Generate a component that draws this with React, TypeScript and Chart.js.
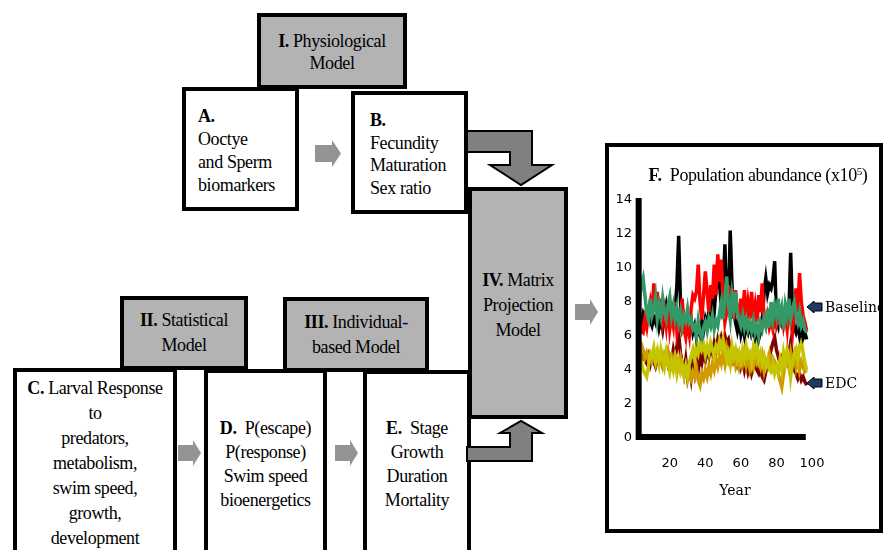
import React, { useEffect, useRef } from "react";
import { Chart, registerables } from "chart.js";

Chart.register(...registerables);

// ---- Chart data (population abundance x10^5, years 1..97) ----
const FIRST_YEAR = 1;
const X_TICKS = [20, 40, 60, 80, 100];
const Y_TICKS = [0, 2, 4, 6, 8, 10, 12, 14];

const baselineBlack = [
  8.4, 8.0, 7.2, 6.8, 7.3, 7.0, 6.7, 7.4, 6.9, 6.6,
  7.1, 6.8, 7.3, 6.5, 7.0, 6.4, 7.2, 7.8, 7.1, 7.9,
  7.3, 6.8, 7.5, 9.0, 11.9, 8.0, 6.6, 7.1, 6.5, 6.9,
  6.3, 7.0, 6.2, 6.6, 5.9, 6.4, 6.1, 6.8, 6.3, 7.0,
  6.6, 7.5, 7.0, 8.2, 7.4, 8.8, 10.4, 9.0, 7.8, 8.6,
  11.4, 8.2, 7.6, 12.2, 9.0, 7.4, 6.8, 6.3, 6.9, 6.1,
  6.6, 6.0, 6.5, 6.2, 6.7, 6.1, 6.4, 5.9, 6.3, 5.8,
  6.2, 6.6, 8.6, 9.4, 8.5, 9.0, 8.8, 9.3, 10.4, 7.0,
  6.6, 7.3, 6.8, 7.2, 7.6, 7.0, 7.4, 10.9, 7.6, 6.5,
  6.2, 6.6, 6.0, 6.4, 5.9, 6.2, 5.8,
];
const baselineRed = [
  7.6, 8.8, 7.0, 6.3, 6.2, 7.0, 6.5, 7.4, 8.0, 7.2,
  9.1, 7.6, 8.6, 7.0, 8.2, 6.8, 7.5, 6.6, 7.8, 6.4,
  7.2, 6.6, 8.0, 6.3, 7.0, 6.2, 8.2, 6.4, 5.9, 6.8,
  6.1, 7.6, 8.4, 8.2, 8.6, 10.2, 8.0, 7.0, 8.4, 9.8,
  8.6, 7.4, 9.0, 8.2, 10.2, 8.4, 10.8, 9.2, 10.5, 8.0,
  6.8, 7.4, 9.0, 7.2, 8.8, 7.0, 8.7, 7.4, 7.0, 8.2,
  7.2, 8.7, 6.9, 8.0, 7.2, 8.6, 7.0, 7.8, 6.8, 8.4,
  7.4, 9.1, 7.0, 6.6, 7.2, 6.5, 6.9, 6.4, 7.2, 6.6,
  7.0, 6.8, 7.4, 6.6, 7.2, 6.4, 7.8, 6.9, 6.2, 7.6,
  8.8, 7.4, 9.7, 8.0, 7.2, 6.8, 6.3,
];
const baselineGreen = [
  8.5, 8.8, 8.2, 9.0, 9.4, 8.4, 7.4, 7.0, 8.2, 7.2,
  7.6, 8.3, 7.0, 7.8, 7.2, 8.2, 7.4, 7.0, 7.8, 8.3,
  7.2, 7.8, 7.0, 7.6, 6.8, 7.4, 6.6, 7.2, 6.9, 7.6,
  6.8, 7.0, 6.4, 6.6, 6.0, 6.9, 6.2, 5.9, 6.5, 6.8,
  6.3, 7.0, 6.6, 7.2, 6.4, 6.9, 6.6, 7.4, 8.0, 7.0,
  8.2, 9.5, 7.8, 7.0, 8.4, 7.6, 8.6, 7.4, 7.0, 6.6,
  7.2, 6.5, 7.0, 6.4, 6.8, 6.3, 6.9, 6.2, 6.6, 6.0,
  6.8, 6.4, 7.0, 6.6, 7.6, 6.5, 8.0, 7.0, 7.8, 7.2,
  8.2, 7.0, 7.6, 6.4, 7.8, 7.2, 8.2, 7.0, 7.6, 8.0,
  7.2, 6.8, 7.4, 6.6, 6.9, 6.4, 6.2,
];
const edcMaroon = [
  5.4, 5.6, 5.2, 4.6, 5.0, 4.6, 4.4, 4.8, 4.3, 4.7,
  4.5, 4.2, 4.6, 4.4, 4.9, 4.3, 4.6, 5.0, 4.4, 4.8,
  4.5, 5.2, 4.7, 5.4, 6.1, 5.0, 4.4, 3.8, 4.6, 3.6,
  4.2, 3.5, 4.4, 3.8, 4.6, 4.0, 4.8, 4.4, 5.0, 4.6,
  5.2, 4.8, 5.4, 5.0, 5.6, 5.2, 5.8, 5.4, 5.9, 5.5,
  6.0, 5.6, 5.8, 5.2, 5.0, 4.6, 5.0, 4.4, 4.8, 4.2,
  4.6, 4.0, 4.5, 3.9, 4.3, 3.8, 4.2, 4.6, 4.0, 3.8,
  4.2, 3.6, 3.4, 3.9, 4.4, 4.8, 5.2, 5.6, 5.9, 5.2,
  4.8, 4.4, 4.7, 4.2, 4.6, 4.4, 5.0, 5.6, 4.6, 4.0,
  3.8, 3.5, 3.8, 3.4, 3.6, 3.3, 3.1,
];
const edcOrange = [
  5.3, 5.6, 5.4, 5.5, 5.2, 4.7, 5.0, 4.6, 4.9, 4.5,
  4.8, 4.4, 5.0, 4.6, 4.8, 4.3, 4.9, 4.6, 5.1, 4.5,
  4.8, 4.4, 4.9, 4.6, 4.2, 4.7, 4.0, 3.6, 4.2, 3.7,
  4.0, 3.5, 3.9, 3.6, 4.1, 3.4, 3.1, 3.8, 3.5, 4.0,
  3.6, 4.2, 3.8, 4.4, 4.0, 4.6, 4.2, 4.8, 4.4, 5.0,
  4.4, 5.2, 4.6, 5.0, 4.5, 4.9, 4.3, 4.8, 4.2, 4.7,
  4.4, 5.0, 4.3, 4.8, 4.1, 4.6, 4.2, 4.9, 4.4, 4.6,
  4.2, 4.8, 4.0, 4.6, 4.4, 4.9, 4.2, 4.7, 4.5, 4.3,
  3.8, 3.4, 3.0, 3.8, 4.4, 4.8, 4.2, 5.0, 4.4, 4.9,
  4.2, 4.8, 4.0, 4.5, 4.2, 3.9, 4.0,
];
const edcYellow = [
  4.6, 5.6, 5.3, 4.4, 4.0, 3.8, 3.6, 4.2, 5.0, 4.8,
  5.3, 4.6, 5.1, 4.4, 5.2, 4.7, 4.2, 5.0, 4.4, 3.9,
  4.5, 4.0, 4.6, 3.8, 4.4, 3.9, 4.3, 3.7, 4.2, 3.6,
  4.4, 4.8, 5.2, 4.6, 5.4, 5.0, 5.6, 5.2, 5.5, 4.9,
  5.4, 5.0, 5.6, 5.2, 4.8, 5.4, 5.1, 5.7, 5.3, 5.8,
  5.2, 4.6, 5.0, 4.4, 5.4, 4.8, 5.2, 4.6, 5.0, 4.5,
  5.2, 4.7, 5.4, 4.8, 5.0, 4.4, 5.3, 4.9, 5.5, 4.6,
  5.0, 4.4, 4.8, 4.2, 4.6, 4.0, 3.9, 4.4, 3.8, 4.2,
  3.9, 4.6, 4.0, 5.0, 4.4, 5.2, 4.8, 3.6, 4.4, 4.9,
  5.2, 4.6, 5.4, 5.7, 5.0, 4.4, 4.0,
];

const SERIES = [
  { name: "Baseline run 3", values: baselineGreen, color: "#339966" },
  { name: "Baseline run 2", values: baselineRed, color: "#ff0000" },
  { name: "Baseline run 1", values: baselineBlack, color: "#000000" },
  { name: "EDC run 3", values: edcYellow, color: "#c4c400" },
  { name: "EDC run 2", values: edcOrange, color: "#d09a00" },
  { name: "EDC run 1", values: edcMaroon, color: "#800000" },
];

const AXIS_X_START = 2.5;
const AXIS_X_END = 96.5;

const thickAxes = {
  id: "thickAxes",
  afterDatasetsDraw(chart: any) {
    const { ctx, scales } = chart;
    const x = scales.x;
    const y = scales.y;
    ctx.save();
    ctx.strokeStyle = "#000";
    ctx.lineWidth = 6;
    ctx.lineCap = "butt";
    const x0 = x.getPixelForValue(AXIS_X_START);
    const x1 = x.getPixelForValue(AXIS_X_END);
    const y0 = y.getPixelForValue(0);
    const y1 = y.getPixelForValue(14);
    ctx.beginPath();
    ctx.moveTo(x0, y1 - 2);
    ctx.lineTo(x0, y0 + 2);
    ctx.moveTo(x0 - 3, y0 - 1);
    ctx.lineTo(x1, y0 - 1);
    ctx.stroke();
    ctx.restore();
  },
};

function PopChart() {
  const ref = useRef<HTMLCanvasElement | null>(null);
  useEffect(() => {
    if (!ref.current) return;
    const chart = new Chart(ref.current, {
      type: "line",
      data: {
        datasets: SERIES.map((s) => ({
          label: s.name,
          data: s.values.map((v, i) => ({ x: FIRST_YEAR + i, y: v })),
          borderColor: s.color,
          backgroundColor: s.color,
          borderWidth: 3.5,
          pointRadius: 0,
          tension: 0,
          fill: false,
        })),
      },
      options: {
        animation: false,
        responsive: false,
        maintainAspectRatio: false,
        layout: { padding: { left: 0, right: 71, top: 57, bottom: 59 } },
        plugins: {
          legend: { display: false },
          tooltip: { enabled: false },
          title: { display: false },
        },
        scales: {
          x: {
            type: "linear",
            min: 1,
            max: 100,
            grid: { display: false, drawTicks: false },
            border: { display: false },
            ticks: {
              color: "#000",
              padding: 18,
              maxRotation: 0,
              font: { family: "'DejaVu Sans', sans-serif", size: 13 },
            },
            afterBuildTicks: (s: any) => {
              s.ticks = X_TICKS.map((v) => ({ value: v }));
            },
            afterFit: (s: any) => {
              s.height = 36;
            },
          },
          y: {
            type: "linear",
            min: 0,
            max: 14,
            grid: { display: false, drawTicks: false },
            border: { display: false },
            ticks: {
              color: "#000",
              padding: 4,
              font: { family: "'DejaVu Sans', sans-serif", size: 13 },
            },
            afterBuildTicks: (s: any) => {
              s.ticks = Y_TICKS.map((v) => ({ value: v }));
            },
            afterFit: (s: any) => {
              s.width = 31;
            },
          },
        },
      },
      plugins: [thickAxes],
    } as any);
    return () => chart.destroy();
  }, []);
  return (
    <canvas
      ref={ref}
      width={278}
      height={390}
      style={{ position: "absolute", left: 605, top: 143, width: 278, height: 390, zIndex: 3 }}
    />
  );
}

const SERIF = "'Liberation Serif', 'Times New Roman', serif";

function Box(props: {
  left: number;
  top: number;
  width: number;
  height: number;
  fill?: string;
  noBottom?: boolean;
  style?: React.CSSProperties;
  children?: React.ReactNode;
}) {
  const { left, top, width, height, fill, noBottom, style, children } = props;
  return (
    <div
      style={{
        position: "absolute",
        left,
        top,
        width,
        height,
        boxSizing: "border-box",
        border: "4px solid #000",
        borderBottom: noBottom ? "none" : "4px solid #000",
        background: fill || "#fff",
        fontFamily: SERIF,
        fontSize: 18,
        color: "#000",
        letterSpacing: -0.4,
        zIndex: 2,
        ...style,
      }}
    >
      {children}
    </div>
  );
}

function Lines({ lines, lh }: { lines: React.ReactNode[]; lh: number }) {
  return (
    <>
      {lines.map((l, i) => (
        <div key={i} style={{ lineHeight: lh + "px", whiteSpace: "nowrap" }}>
          {l}
        </div>
      ))}
    </>
  );
}

function smallArrow(x0: number, xb: number, x1: number, cy: number, hb: number, hh: number) {
  return `${x0},${cy - hb} ${xb},${cy - hb} ${xb},${cy - hh} ${x1},${cy} ${xb},${cy + hh} ${xb},${cy + hb} ${x0},${cy + hb}`;
}

function navyArrow(cy: number) {
  return `807,${cy} 814,${cy - 6} 814,${cy - 4} 822,${cy - 4} 822,${cy + 4} 814,${cy + 4} 814,${cy + 6}`;
}

export default function App() {
  const GRAY = "#b3b3b3";
  return (
    <div
      style={{
        position: "absolute",
        left: 0,
        top: 0,
        width: 883,
        height: 550,
        overflow: "hidden",
        background: "#fff",
      }}
    >
      {/* I. Physiological Model */}
      <Box left={257} top={13} width={150} height={76} fill={GRAY}
        style={{ display: "flex", flexDirection: "column", justifyContent: "center", alignItems: "center", paddingTop: 2 }}>
        <Lines lh={22} lines={[<span><b>I.</b> Physiological</span>, "Model"]} />
      </Box>
      {/* A */}
      <Box left={182} top={87} width={117} height={124} style={{ paddingLeft: 12, paddingTop: 14 }}>
        <Lines lh={23} lines={[<b>A.</b>, "Ooctye", "and Sperm", "biomarkers"]} />
      </Box>
      {/* B */}
      <Box left={351} top={91} width={117} height={123} style={{ paddingLeft: 15, paddingTop: 14 }}>
        <Lines lh={22.5} lines={[<b>B.</b>, "Fecundity", "Maturation", "Sex ratio"]} />
      </Box>
      {/* IV */}
      <Box left={468} top={187} width={100} height={232} fill={GRAY}
        style={{ textAlign: "center", paddingTop: 77 }}>
        <Lines lh={25} lines={[<span><b>IV.</b> Matrix</span>, "Projection", "Model"]} />
      </Box>
      {/* C, D, E */}
      <Box left={13} top={368} width={164} height={200} noBottom style={{ textAlign: "center", paddingTop: 4 }}>
        <Lines lh={25} lines={[<span><b>C.</b> Larval Response</span>, "to", "predators,", "metabolism,", "swim speed,", "growth,", "development"]} />
      </Box>
      <Box left={204} top={369} width={123} height={200} noBottom style={{ textAlign: "center", paddingTop: 43 }}>
        <Lines lh={24} lines={[<span><b>D.</b>&nbsp; P(escape)</span>, "P(response)", "Swim speed", "bioenergetics"]} />
      </Box>
      <Box left={363} top={370} width={108} height={200} noBottom style={{ textAlign: "center", paddingTop: 42 }}>
        <Lines lh={24} lines={[<span><b>E.</b>&nbsp; Stage</span>, "Growth", "Duration", "Mortality"]} />
      </Box>
      {/* II, III */}
      <Box left={120} top={296} width={128} height={74} fill={GRAY}
        style={{ display: "flex", flexDirection: "column", justifyContent: "center", alignItems: "center", zIndex: 3 }}>
        <Lines lh={25} lines={[<span><b>II.</b> Statistical</span>, "Model"]} />
      </Box>
      <Box left={283} top={297} width={146} height={75} fill={GRAY}
        style={{ display: "flex", flexDirection: "column", justifyContent: "center", alignItems: "center", zIndex: 3 }}>
        <Lines lh={25} lines={[<span><b>III.</b> Individual-</span>, "based Model"]} />
      </Box>
      {/* F frame */}
      <Box left={605} top={143} width={278} height={390} style={{ zIndex: 1 }} />

      {/* arrows */}
      <svg width={883} height={550} style={{ position: "absolute", left: 0, top: 0, zIndex: 4, pointerEvents: "none" }}>
        <polygon points={smallArrow(315, 332, 341, 153.5, 8.5, 13.5)} fill="#949494" />
        <polygon points={smallArrow(178, 193, 201, 453, 8, 13)} fill="#949494" />
        <polygon points={smallArrow(335, 350, 358, 453, 8, 13)} fill="#949494" />
        <polygon points={smallArrow(575, 590, 598, 312, 8, 13)} fill="#949494" />
        <polygon
          points="467,131 532,131 532,165 552,165 521,185 490,165 510,165 510,152 467,152"
          fill="#808080" stroke="#000" strokeWidth={2} strokeLinejoin="miter" />
        <polygon
          points="467,461 532,461 532,433 542,433 521,421 500,433 510,433 510,447 467,447"
          fill="#808080" stroke="#000" strokeWidth={2} strokeLinejoin="miter" />
        <polygon points={navyArrow(307)} fill="#1f3b63" stroke="#000" strokeWidth={1} />
        <polygon points={navyArrow(383)} fill="#1f3b63" stroke="#000" strokeWidth={1} />
      </svg>

      <PopChart />

      {/* chart texts */}
      <div style={{ position: "absolute", left: 608, width: 300, top: 164, textAlign: "center", fontFamily: SERIF, fontSize: 18, letterSpacing: -0.4, lineHeight: "22px", zIndex: 5, whiteSpace: "nowrap" }}>
        <b>F.</b>&nbsp; Population abundance (x10<sup style={{ fontSize: 11, verticalAlign: "6px", lineHeight: 0 }}>5</sup>)
      </div>
      <div style={{ position: "absolute", left: 825, top: 298, fontFamily: "'DejaVu Serif', serif", fontSize: 14, lineHeight: "18px", zIndex: 5, whiteSpace: "nowrap" }}>Baseline</div>
      <div style={{ position: "absolute", left: 825, top: 374, fontFamily: "'DejaVu Serif', serif", fontSize: 14, lineHeight: "18px", zIndex: 5, whiteSpace: "nowrap" }}>EDC</div>
      <div style={{ position: "absolute", left: 700, width: 70, top: 481, textAlign: "center", fontFamily: "'DejaVu Serif', serif", fontSize: 14, lineHeight: "18px", zIndex: 5 }}>Year</div>
    </div>
  );
}
